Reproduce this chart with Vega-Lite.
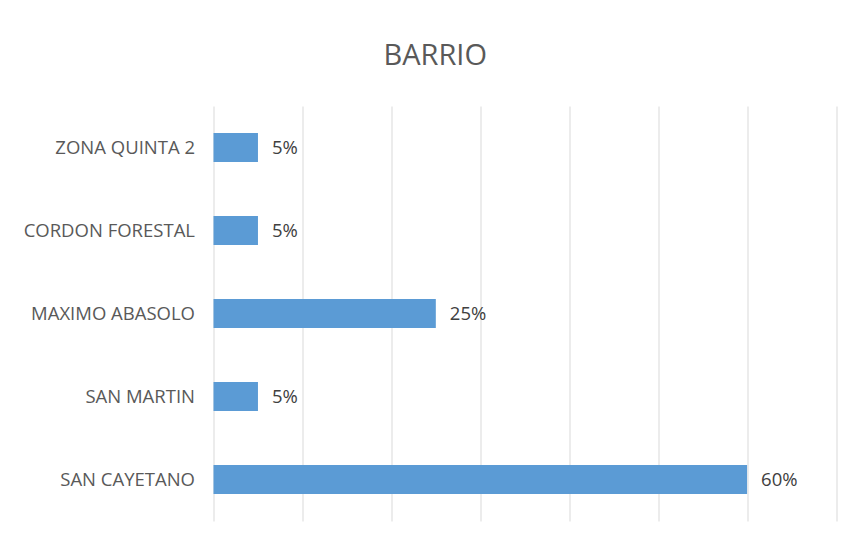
{
  "$schema": "https://vega.github.io/schema/vega-lite/v6.json",
  "width": 622.5,
  "height": 415,
  "autosize": {"type": "none"},
  "padding": {"left": 213.5, "top": 106, "right": 17, "bottom": 18},
  "background": "white",
  "title": {
    "text": "BARRIO",
    "anchor": "middle",
    "dx": -89.5,
    "offset": 35,
    "fontSize": 29,
    "font": "Open Sans",
    "fontWeight": "normal",
    "color": "#595959"
  },
  "data": {
    "values": [
      {"barrio": "ZONA QUINTA 2", "pct": 0.05},
      {"barrio": "CORDON FORESTAL", "pct": 0.05},
      {"barrio": "MAXIMO ABASOLO", "pct": 0.25},
      {"barrio": "SAN MARTIN", "pct": 0.05},
      {"barrio": "SAN CAYETANO", "pct": 0.60}
    ]
  },
  "encoding": {
    "y": {
      "field": "barrio",
      "type": "nominal",
      "sort": null,
      "scale": {"paddingInner": 0.65, "paddingOuter": 0.325},
      "axis": {
        "title": null,
        "domain": false,
        "ticks": false,
        "labelPadding": 19,
        "labelFont": "Open Sans",
        "labelFontSize": 18.5,
        "labelColor": "#595959",
        "grid": false
      }
    },
    "x": {
      "field": "pct",
      "type": "quantitative",
      "scale": {"domain": [0, 0.7], "nice": false},
      "axis": {
        "title": null,
        "labels": false,
        "ticks": false,
        "domain": false,
        "values": [0, 0.1, 0.2, 0.3, 0.4, 0.5, 0.6, 0.7],
        "grid": true,
        "gridColor": "#D9D9D9",
        "gridWidth": 1
      }
    }
  },
  "layer": [
    {"mark": {"type": "bar", "color": "#5B9BD5"}},
    {
      "mark": {"type": "text", "align": "left", "dx": 14, "font": "Open Sans", "fontSize": 18.5, "color": "#404040"},
      "encoding": {"text": {"field": "pct", "type": "quantitative", "format": ".0%"}}
    }
  ],
  "config": {"view": {"stroke": null}}
}
